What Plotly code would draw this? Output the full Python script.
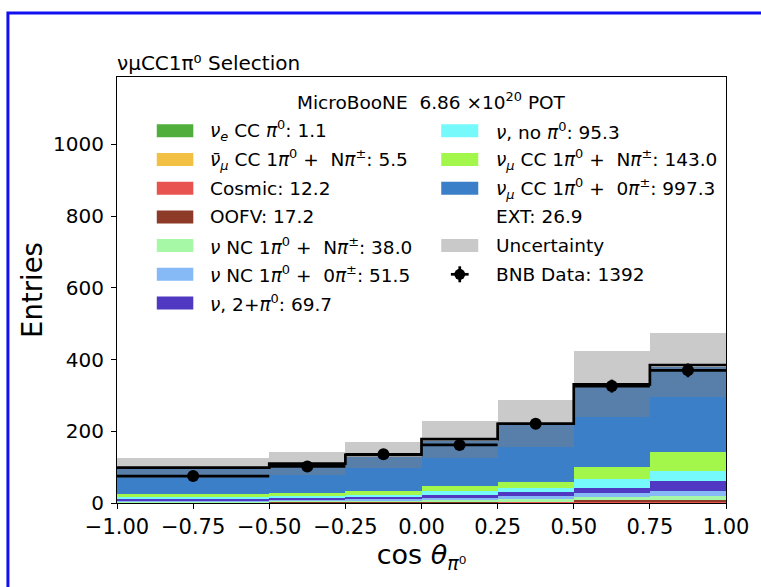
import numpy as np
import plotly.graph_objects as go

# Binning in cos(theta_pi0)
bin_edges = [-1.0, -0.5, -0.25, 0.0, 0.25, 0.5, 0.75, 1.0]

# Predicted event counts per bin, one list per category (stacked bottom to top)
nue_cc_pi0 = [0.1, 0.1, 0.1, 0.1, 0.2, 0.2, 0.3]
numubar_cc_1pi0_npi = [0.3, 0.4, 0.5, 0.6, 0.9, 1.2, 1.6]
cosmic = [1.0, 1.0, 1.2, 1.5, 1.8, 2.5, 3.2]
oofv = [1.2, 1.4, 1.8, 2.2, 2.6, 3.5, 4.5]
nc_1pi0_npi = [2.5, 2.8, 3.2, 4.5, 5.5, 8.5, 11.0]
nc_1pi0_0pi = [3.0, 4.0, 4.5, 6.0, 9.0, 11.5, 13.5]
multi_pi0 = [3.2, 3.5, 4.5, 6.5, 9.5, 15.5, 27.0]
no_pi0 = [5.5, 6.0, 7.0, 11.0, 12.5, 25.3, 28.0]
numu_cc_1pi0_npi = [7.0, 8.0, 10.0, 14.0, 17.0, 33.0, 54.0]
numu_cc_1pi0_0pi = [71.2, 76.8, 97.4, 127.8, 158.7, 226.7, 238.7]
ext = [3.8, 6.0, 3.8, 3.8, 3.3, 3.1, 3.1]

# Total MC uncertainty per bin and measured data
mc_uncertainty = [28, 32, 36, 52, 65, 92, 90]
bnb_data = [75, 102, 136, 162, 221, 326, 370]

y_ticks = [0, 200, 400, 600, 800, 1000]
x_ticks = [-1.0, -0.75, -0.5, -0.25, 0.0, 0.25, 0.5, 0.75, 1.0]

FONT = "DejaVu Sans"
W, H = 761, 587
ML, MR, MT, MB = 117, 27, 77, 84
PW, PH = W - ML - MR, H - MT - MB


def px_x(px):
    return (px - ML) / PW


def px_y(py):
    return (H - MB - py) / PH


nu = "<i>ν</i>"
pi0 = "<i>π</i><sup>0</sup>"
pipm = "<i>π</i><sup>±</sup>"

# (label, values, colour, legend column, legend row)
components = [
    (f"<i>ν<sub>e</sub></i> CC {pi0}", nue_cc_pi0, "#4fae3c", 0, 0),
    (f"<i>ν̄<sub>μ</sub></i> CC 1{pi0} +  N{pipm}", numubar_cc_1pi0_npi, "#f2c042", 0, 1),
    ("Cosmic", cosmic, "#e8534f", 0, 2),
    ("OOFV", oofv, "#8e3a28", 0, 3),
    (f"{nu} NC 1{pi0} +  N{pipm}", nc_1pi0_npi, "#a6f7a6", 0, 4),
    (f"{nu} NC 1{pi0} +  0{pipm}", nc_1pi0_0pi, "#85baf7", 0, 5),
    (f"{nu}, 2+{pi0}", multi_pi0, "#5138c2", 0, 6),
    (f"{nu}, no {pi0}", no_pi0, "#75f9fa", 1, 0),
    (f"<i>ν<sub>μ</sub></i> CC 1{pi0} +  N{pipm}", numu_cc_1pi0_npi, "#a3f74b", 1, 1),
    (f"<i>ν<sub>μ</sub></i> CC 1{pi0} +  0{pipm}", numu_cc_1pi0_0pi, "#3a7fc8", 1, 2),
    ("EXT", ext, "#ffffff", 1, 3),
]

edges = np.array(bin_edges)
centers = 0.5 * (edges[1:] + edges[:-1])
widths = np.diff(edges)

fig = go.Figure()

base = np.zeros(len(centers))
for label, vals, color, _, _ in components:
    v = np.array(vals, dtype=float)
    fig.add_trace(go.Bar(
        x=centers, y=v, base=base.copy(), width=widths,
        marker=dict(color=color, line=dict(width=0)),
        showlegend=False, hoverinfo="skip",
    ))
    base += v
total = base

err = np.array(mc_uncertainty, dtype=float)
fig.add_trace(go.Bar(
    x=centers, y=2 * err, base=total - err, width=widths,
    marker=dict(color="rgba(128,128,128,0.42)", line=dict(width=0)),
    showlegend=False, hoverinfo="skip",
))

# Outline of the summed prediction
fig.add_trace(go.Scatter(
    x=edges, y=np.append(total, total[-1]), mode="lines",
    line=dict(shape="hv", color="black", width=2.7),
    showlegend=False, hoverinfo="skip",
))

data = np.array(bnb_data, dtype=float)
fig.add_trace(go.Scatter(
    x=centers, y=data, mode="markers",
    marker=dict(color="black", size=12),
    error_x=dict(type="data", array=widths / 2, color="black", thickness=2.7, width=0),
    error_y=dict(type="data", array=np.sqrt(data), color="black", thickness=2.7, width=0),
    showlegend=False,
))

shapes = []
annotations = []

# Hand-placed two-column legend
row0, drow = 130.8, 28.7
col_rect = [(157.3, 194.3), (445.5, 483.0)]
col_text = [209.0, 498.5]
tfont = dict(family=FONT, size=18.5, color="black")
for label, vals, color, col, row in components:
    cy = row0 + row * drow
    if label != "EXT":
        shapes.append(dict(type="rect", xref="paper", yref="paper",
                           x0=px_x(col_rect[col][0]), x1=px_x(col_rect[col][1]),
                           y0=px_y(cy + 6.5), y1=px_y(cy - 6.5),
                           fillcolor=color, line=dict(width=0)))
    annotations.append(dict(xref="paper", yref="paper", x=px_x(col_text[col]), y=px_y(cy),
                            xanchor="left", yanchor="middle", showarrow=False,
                            text=f"{label}: {np.sum(vals):.1f}", font=tfont))

cy = row0 + 4 * drow
shapes.append(dict(type="rect", xref="paper", yref="paper",
                   x0=px_x(col_rect[1][0]), x1=px_x(col_rect[1][1]),
                   y0=px_y(cy + 6.5), y1=px_y(cy - 6.5),
                   fillcolor="#c9c9c9", line=dict(width=0)))
annotations.append(dict(xref="paper", yref="paper", x=px_x(col_text[1]), y=px_y(cy),
                        xanchor="left", yanchor="middle", showarrow=False,
                        text="Uncertainty", font=tfont))

cy = row0 + 5 * drow
mx = 0.5 * (col_rect[1][0] + col_rect[1][1])
shapes.append(dict(type="line", xref="paper", yref="paper",
                   x0=px_x(mx - 9), x1=px_x(mx + 9), y0=px_y(cy), y1=px_y(cy),
                   line=dict(color="black", width=2.7)))
shapes.append(dict(type="line", xref="paper", yref="paper",
                   x0=px_x(mx), x1=px_x(mx), y0=px_y(cy - 8), y1=px_y(cy + 8),
                   line=dict(color="black", width=2.7)))
shapes.append(dict(type="circle", xref="paper", yref="paper",
                   x0=px_x(mx - 5.5), x1=px_x(mx + 5.5), y0=px_y(cy + 5.5), y1=px_y(cy - 5.5),
                   fillcolor="black", line=dict(width=0)))
annotations.append(dict(xref="paper", yref="paper", x=px_x(col_text[1]), y=px_y(cy),
                        xanchor="left", yanchor="middle", showarrow=False,
                        text=f"BNB Data: {int(data.sum())}", font=tfont))

annotations.append(dict(xref="paper", yref="paper", x=px_x(435.5), y=px_y(101),
                        xanchor="center", yanchor="middle", showarrow=False,
                        text="MicroBooNE  6.86 ×10<sup>20</sup> POT", font=tfont))

# Blue border around the figure
shapes.append(dict(type="rect", xref="paper", yref="paper",
                   x0=px_x(6.5), x1=px_x(W + 20), y0=px_y(H + 20), y1=px_y(13),
                   line=dict(color="#1010f0", width=3), fillcolor="rgba(0,0,0,0)"))

axis_common = dict(
    showline=True, mirror=True, linecolor="black", linewidth=1.2,
    ticks="outside", ticklen=5, tickwidth=1.2, tickcolor="black",
    showgrid=False, zeroline=False,
)

fig.update_layout(
    width=W, height=H,
    margin=dict(l=ML, r=MR, t=MT, b=MB),
    paper_bgcolor="white", plot_bgcolor="white",
    barmode="overlay", bargap=0,
    font=dict(family=FONT, color="black"),
    title=dict(text="νμCC1π⁰ Selection", x=ML / W, xref="container",
               xanchor="left", y=1 - 63 / H, yref="container", yanchor="middle",
               font=dict(family=FONT, size=20, color="black")),
    xaxis=dict(range=[-1, 1], tickvals=x_ticks, tickformat=".2f",
               tickfont=dict(family=FONT, size=21, color="black"),
               title=dict(text="cos <i>θ</i><sub><i>π</i>⁰</sub>",
                          font=dict(family=FONT, size=27, color="black"), standoff=6),
               **axis_common),
    yaxis=dict(range=[0, 1188], tickvals=y_ticks,
               tickfont=dict(family=FONT, size=20, color="black"),
               ticklabelstandoff=3,
               title=dict(text="Entries", font=dict(family=FONT, size=27.5, color="black"),
                          standoff=2),
               **axis_common),
    shapes=shapes,
    annotations=annotations,
    showlegend=False,
)

fig.write_html("out.html")
